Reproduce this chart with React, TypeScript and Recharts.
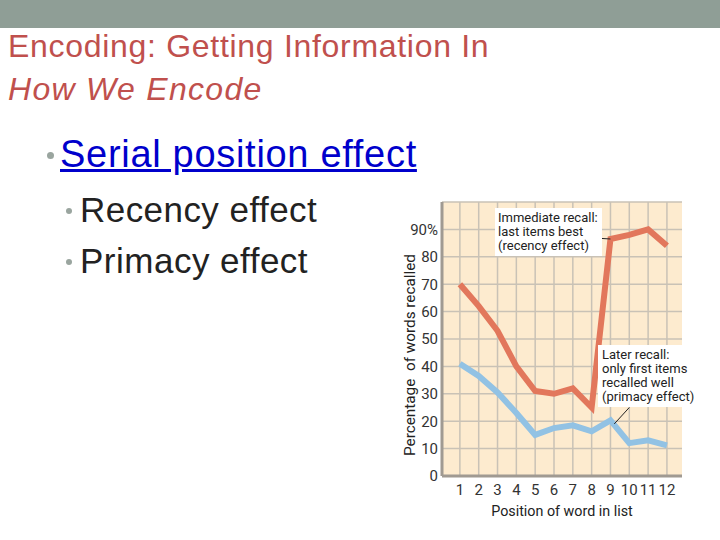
import React from "react";
import {
  LineChart,
  Line,
  XAxis,
  YAxis,
  CartesianGrid,
  ReferenceLine,
} from "recharts";

const positions = [1, 2, 3, 4, 5, 6, 7, 8, 9, 10, 11, 12];
const immediateRecall = [70, 62, 53, 40, 31, 30, 32, 25, 86.5, 88, 90, 84];
const laterRecall = [41, 36.5, 30.5, 23, 15, 17.5, 18.5, 16.3, 20.3, 12, 13, 11.2];
const yTicks = [0, 10, 20, 30, 40, 50, 60, 70, 80, 90, 100];

// leader lines from the notes to the curves
const recencyLeader = [{ x: 7.3, y: 87.2 }, { x: 9, y: 86.5 }];
const primacyLeader = [{ x: 10, y: 25 }, { x: 9.2, y: 19 }];

const data = positions.map((p, i) => ({
  pos: p,
  immediate: immediateRecall[i],
  later: laterRecall[i],
}));

const chartFont = "Roboto, 'Liberation Sans', sans-serif";
const slideFont = "'Liberation Sans', Arial, sans-serif";

const noteStyle: React.CSSProperties = {
  position: "absolute",
  background: "#fff",
  fontFamily: chartFont,
  fontSize: 13,
  lineHeight: "14px",
  color: "#222",
  whiteSpace: "nowrap",
};

export default function App() {
  return (
    <div
      style={{
        position: "absolute",
        left: 0,
        top: 0,
        width: 720,
        height: 540,
        background: "#fff",
        overflow: "hidden",
        fontFamily: slideFont,
      }}
    >
      <div style={{ position: "absolute", left: 0, top: 0, width: 720, height: 28, background: "#8f9e96" }} />
      <div style={{ position: "absolute", left: 8, top: 28, fontSize: 32, letterSpacing: 0.7, color: "#c0504d", lineHeight: "36px" }}>
        Encoding: Getting Information In
      </div>
      <div style={{ position: "absolute", left: 8, top: 71, fontSize: 32, letterSpacing: 1.3, fontStyle: "italic", color: "#c0504d", lineHeight: "36px" }}>
        How We Encode
      </div>

      <div style={{ position: "absolute", left: 47, top: 152, width: 7, height: 7, borderRadius: 4, background: "#9aa59f" }} />
      <div style={{ position: "absolute", left: 60, top: 133, fontSize: 38, letterSpacing: 0.7, color: "#0000cc", textDecoration: "underline", lineHeight: "42px" }}>
        Serial position effect
      </div>
      <div style={{ position: "absolute", left: 66, top: 208, width: 6, height: 6, borderRadius: 3, background: "#9aa59f" }} />
      <div style={{ position: "absolute", left: 80, top: 190, fontSize: 35, letterSpacing: 0.45, color: "#222", lineHeight: "40px" }}>
        Recency effect
      </div>
      <div style={{ position: "absolute", left: 66, top: 259, width: 6, height: 6, borderRadius: 3, background: "#9aa59f" }} />
      <div style={{ position: "absolute", left: 80, top: 241, fontSize: 35, letterSpacing: 0.5, color: "#222", lineHeight: "40px" }}>
        Primacy effect
      </div>

      <div style={{ position: "absolute", left: 400, top: 195 }}>
        <LineChart
          width={300}
          height={330}
          data={data}
          margin={{ top: 7, right: 18, left: 0, bottom: 0 }}
        >
          <CartesianGrid
            fill="#fdebcf"
            stroke="#c9c2b6"
            strokeWidth={1.5}
            horizontalValues={yTicks}
            verticalValues={positions}
          />
          <XAxis
            dataKey="pos"
            type="number"
            domain={[0.05, 12.8]}
            ticks={positions}
            interval={0}
            height={49}
            tickLine={false}
            stroke="#a09a92"
            strokeWidth={3}
            tick={{ fontSize: 15, fill: "#333", fontFamily: chartFont }}
            label={{
              value: "Position of word in list",
              position: "insideBottom",
              offset: 9,
              fontSize: 14.3,
              fill: "#222",
              fontFamily: chartFont,
            }}
          />
          <YAxis
            type="number"
            domain={[0, 100]}
            ticks={yTicks}
            interval={0}
            width={42}
            tickLine={false}
            tickSize={2}
            tickMargin={2}
            stroke="#a09a92"
            strokeWidth={3}
            tick={{ fontSize: 15, fill: "#333", fontFamily: chartFont }}
            tickFormatter={(v: number) => (v === 90 ? "90%" : v === 100 ? "" : String(v))}
          />
          <Line
            dataKey="immediate"
            type="linear"
            stroke="#e2775c"
            strokeWidth={6}
            dot={false}
            isAnimationActive={false}
          />
          <Line
            dataKey="later"
            type="linear"
            stroke="#92c2e4"
            strokeWidth={6}
            dot={false}
            isAnimationActive={false}
          />
          <ReferenceLine
            segment={recencyLeader}
            stroke="#222"
            strokeWidth={1}
            ifOverflow="visible"
          />
          <ReferenceLine
            segment={primacyLeader}
            stroke="#222"
            strokeWidth={1}
            ifOverflow="visible"
          />
        </LineChart>
      </div>

      <div style={{ position: "absolute", left: 410 - 110, top: 355 - 10, width: 220, height: 20, transform: "rotate(-90deg)", textAlign: "center", fontFamily: chartFont, fontSize: 15.3, color: "#222", lineHeight: "20px", whiteSpace: "nowrap" }}>
        Percentage&nbsp; of words recalled
      </div>

      <div style={{ ...noteStyle, left: 495, top: 208, padding: "3px 4px 3px 3px" }}>
        Immediate recall:
        <br />
        last items best
        <br />
        (recency effect)
      </div>
      <div style={{ ...noteStyle, left: 598, top: 345, padding: "3px 3px 3px 4px" }}>
        Later recall:
        <br />
        only first items
        <br />
        recalled well
        <br />
        (primacy effect)
      </div>
    </div>
  );
}
